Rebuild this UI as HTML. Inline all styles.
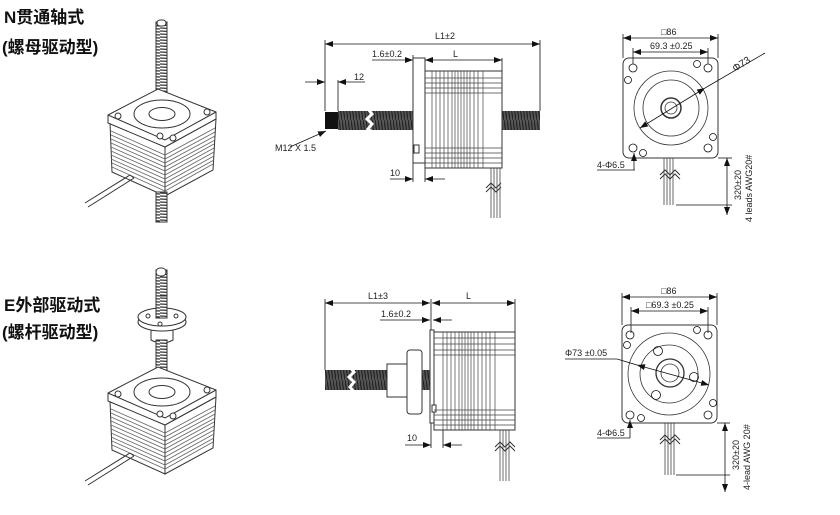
<!DOCTYPE html>
<html><head><meta charset="utf-8"><style>
html,body{margin:0;padding:0;background:#fff;}
svg{display:block;}
text{font-family:"Liberation Sans","Noto Sans CJK SC",sans-serif;fill:#222;}
.t{font-family:"Liberation Sans","Noto Sans CJK SC",sans-serif;font-weight:bold;font-size:17px;fill:#111;}
</style></head><body>
<svg width="840" height="515" viewBox="0 0 840 515" xmlns="http://www.w3.org/2000/svg">
<defs>
<marker id="a" markerWidth="8" markerHeight="6" refX="8" refY="3" orient="auto-start-reverse" markerUnits="userSpaceOnUse"><path d="M0,0L8,3L0,6z" fill="#111"/></marker>
<pattern id="thr" width="3" height="20" patternUnits="userSpaceOnUse"><rect width="3" height="20" fill="#555"/><line x1="0" y1="0" x2="3" y2="20" stroke="#222" stroke-width="1.2"/></pattern>
<pattern id="thrv" width="20" height="3" patternUnits="userSpaceOnUse"><rect width="20" height="3" fill="#fff"/><line x1="0" y1="1" x2="20" y2="2" stroke="#333" stroke-width="1.2"/></pattern>
<g id="motor3d" stroke="#333" stroke-width="1" fill="#fff">
  <path d="M110,123 L112,172 L165,196 L165,147 Z"/>
  <path d="M165,147 L165,196 L213,170 L216,119 Z"/>
  <g stroke="#666" fill="none" stroke-width="0.8">
    <path d="M111,131 L165,155 L215,128"/><path d="M111,135 L165,159 L215,132"/><path d="M111,139 L165,163 L215,136"/><path d="M111,143 L165,167 L215,140"/><path d="M111,147 L165,171 L214,144"/><path d="M111,151 L165,175 L214,148"/><path d="M111,155 L165,179 L214,152"/><path d="M111,159 L165,183 L214,156"/><path d="M112,163 L165,187 L214,160"/><path d="M112,167 L165,191 L213,164"/>
  </g>
  <path d="M108,115 L158,89 L216,112 L216,119 L165,147 L108,123 Z"/>
  <path d="M108,115 L165,140 L216,112" fill="none"/>
  <ellipse cx="162" cy="114" rx="28" ry="14"/>
  <ellipse cx="162" cy="114" rx="13" ry="6.5"/>
  <circle cx="118" cy="116" r="3"/><circle cx="207" cy="112" r="3"/><circle cx="160" cy="136" r="3"/><circle cx="173" cy="138" r="3"/>
  <path d="M130,175 L85,203 M134,178 L88,207 M130,175 L134,178" fill="none"/>
</g>
</defs>

<text class="t" x="4" y="23">N贯通轴式</text>
<text class="t" x="2" y="53">(螺母驱动型)</text>
<text class="t" x="4" y="311">E外部驱动式</text>
<text class="t" x="2" y="338">(螺杆驱动型)</text>

<rect x="156" y="22" width="11" height="95" fill="url(#thrv)" stroke="#333"/>
<rect x="157" y="20" width="9" height="6" rx="3" fill="#fff" stroke="#333"/>
<use href="#motor3d"/>
<rect x="156" y="192" width="11" height="30" fill="url(#thrv)" stroke="#333"/>

<rect x="156" y="270" width="11" height="125" fill="url(#thrv)" stroke="#333"/>
<rect x="156" y="268" width="10" height="8" rx="4" fill="#fff" stroke="#333"/>
<path d="M151,320 L151,340 Q162,346 173,340 L173,320 Z" fill="#fff" stroke="#333"/>
<rect x="156" y="340" width="11" height="30" fill="url(#thrv)" stroke="#333"/>
<ellipse cx="162" cy="322" rx="24" ry="9" fill="#fff" stroke="#333"/>
<ellipse cx="162" cy="317" rx="24" ry="9" fill="#fff" stroke="#333"/>
<rect x="156" y="296" width="11" height="22" fill="url(#thrv)" stroke="#333"/>
<circle cx="148" cy="316" r="2" fill="none" stroke="#333"/><circle cx="176" cy="316" r="2" fill="none" stroke="#333"/><circle cx="160" cy="324" r="2" fill="none" stroke="#333"/>
<use href="#motor3d" transform="translate(0,278)"/>

<g stroke="#111" stroke-width="0.8" fill="none">
<line x1="325" y1="44" x2="540" y2="44" marker-start="url(#a)" marker-end="url(#a)"/>
<line x1="325" y1="40" x2="325" y2="111"/><line x1="540" y1="40" x2="540" y2="111"/>
<line x1="372" y1="60" x2="413" y2="60" marker-end="url(#a)"/>
<line x1="425" y1="60" x2="502" y2="60" marker-start="url(#a)" marker-end="url(#a)"/>
<line x1="413" y1="55" x2="413" y2="60"/><line x1="502" y1="58" x2="502" y2="71"/>
<line x1="305" y1="82" x2="325" y2="82" marker-end="url(#a)"/><line x1="338" y1="82" x2="365" y2="82" marker-start="url(#a)"/>
<line x1="338" y1="80" x2="338" y2="111"/>
<line x1="290" y1="147" x2="326" y2="131" marker-end="url(#a)"/>
<line x1="390" y1="179" x2="413" y2="179" marker-end="url(#a)"/><line x1="425" y1="179" x2="445" y2="179" marker-start="url(#a)"/>
<line x1="413" y1="163" x2="413" y2="182"/><line x1="425" y1="163" x2="425" y2="182"/>
</g>
<rect x="338" y="111" width="75" height="19" fill="url(#thr)"/>
<rect x="325" y="112" width="13" height="17" fill="#111"/>
<rect x="502" y="111" width="38" height="19" fill="url(#thr)"/>
<path d="M368,109 l4,5 -5,5 5,5 -4,5 4,3" stroke="#fff" stroke-width="3" fill="none"/>
<rect x="413" y="58" width="12" height="105" fill="#fff" stroke="#333"/>
<rect x="414" y="145" width="5" height="8" fill="#fff" stroke="#333"/>
<rect x="425" y="71" width="77" height="97" fill="#fff" stroke="#333"/>
<g stroke="#444" stroke-width="0.7">
<path d="M432,71V168M436,71V168M440,71V168M444,71V168M448,71V168M452,71V168M455,71V168M458,71V168M461,71V168M464,71V168M467,71V168M470,71V168M474,71V168M478,71V168M483,71V168"/>
<path d="M425,78H502M425,83H502M425,88H502M425,93H502M425,148H502M425,153H502M425,158H502M425,163H502"/>
</g>
<path d="M491,168V218M494,168V218M497,168V218M500,168V218" stroke="#444" stroke-width="0.8"/>
<path d="M486,188l5,-5 5,5 5,-5 M486,192l5,-5 5,5 5,-5" stroke="#333" fill="none"/>
<text x="435" y="39" font-size="9">L1±2</text>
<text x="372" y="57" font-size="9">1.6±0.2</text>
<text x="453" y="57" font-size="9">L</text>
<text x="354" y="80" font-size="9">12</text>
<text x="275" y="151" font-size="9">M12 X 1.5</text>
<text x="390" y="176" font-size="9">10</text>

<g stroke="#111" stroke-width="0.8" fill="none">
<line x1="623" y1="38" x2="718" y2="38" marker-start="url(#a)" marker-end="url(#a)"/>
<line x1="623" y1="34" x2="623" y2="58"/><line x1="718" y1="34" x2="718" y2="58"/>
<line x1="633" y1="52" x2="708" y2="52" marker-start="url(#a)" marker-end="url(#a)"/>
<line x1="633" y1="48" x2="633" y2="64"/><line x1="708" y1="48" x2="708" y2="64"/>
<rect x="623" y="58" width="95" height="100" rx="6" stroke="#333" stroke-width="1"/>
<circle cx="671" cy="108" r="37" stroke="#333"/>
<circle cx="671" cy="108" r="28" stroke="#333"/>
<circle cx="671" cy="108" r="10" stroke="#333" stroke-width="1.5"/>
<circle cx="671" cy="108" r="6" stroke="#333"/>
<circle cx="633" cy="68" r="4"/><circle cx="708" cy="68" r="4"/><circle cx="633" cy="148" r="4"/><circle cx="708" cy="148" r="4"/>
<circle cx="697" cy="64" r="3.5"/><circle cx="628" cy="80" r="3.5"/><circle cx="713" cy="137" r="3.5"/><circle cx="643" cy="153" r="3.5"/>
<line x1="640" y1="128" x2="705" y2="88" marker-start="url(#a)" marker-end="url(#a)"/>
<line x1="705" y1="88" x2="765" y2="53"/>
<line x1="597" y1="170" x2="635" y2="170"/><line x1="634" y1="170" x2="634" y2="153" marker-end="url(#a)"/>
<line x1="727" y1="158" x2="727" y2="215" marker-start="url(#a)" marker-end="url(#a)"/>
<line x1="718" y1="158" x2="732" y2="158"/><line x1="676" y1="205" x2="732" y2="205"/>
</g>
<path d="M664,158V205M667,158V205M670,158V205M673,158V205" stroke="#444" stroke-width="0.8"/>
<path d="M660,175l5,-5 5,5 5,-5 5,5 M660,179l5,-5 5,5 5,-5 5,5" stroke="#333" fill="none"/>
<text x="661" y="35" font-size="9">□86</text>
<text x="650" y="49" font-size="9">69.3 ±0.25</text>
<text x="735" y="72" font-size="10" transform="rotate(-33 735 72)">Φ73</text>
<text x="597" y="168" font-size="9">4-Φ6.5</text>
<text x="0" y="0" font-size="9" transform="translate(741,200) rotate(-90)">320±20</text>
<text x="0" y="0" font-size="9" transform="translate(752,222) rotate(-90)">4 leads AWG20#</text>

<g stroke="#111" stroke-width="0.8" fill="none">
<line x1="325" y1="303" x2="430" y2="303" marker-start="url(#a)" marker-end="url(#a)"/>
<line x1="432" y1="303" x2="515" y2="303" marker-start="url(#a)" marker-end="url(#a)"/>
<line x1="325" y1="299" x2="325" y2="370"/><line x1="431" y1="299" x2="431" y2="330"/><line x1="515" y1="299" x2="515" y2="332"/>
<line x1="380" y1="320" x2="430" y2="320" marker-end="url(#a)"/><line x1="433" y1="320" x2="452" y2="320" marker-start="url(#a)"/>
<line x1="405" y1="445" x2="431" y2="445" marker-end="url(#a)"/><line x1="443" y1="445" x2="462" y2="445" marker-start="url(#a)"/>
<line x1="431" y1="423" x2="431" y2="448"/><line x1="443" y1="430" x2="443" y2="448"/>
</g>
<rect x="325" y="370" width="105" height="20" fill="url(#thr)"/>
<path d="M350,367 l4,5 -5,5 5,5 -4,5 4,5" stroke="#fff" stroke-width="3" fill="none"/>
<rect x="387" y="364" width="20" height="33" fill="#fff" stroke="#333"/>
<rect x="407" y="350" width="15" height="64" rx="3" fill="#fff" stroke="#333"/>
<rect x="430" y="330" width="4" height="93" fill="#fff" stroke="#333"/>
<rect x="434" y="332" width="81" height="98" fill="#fff" stroke="#333"/>
<rect x="432" y="405" width="4" height="7" fill="#fff" stroke="#333"/>
<g stroke="#444" stroke-width="0.7">
<path d="M443,332V430M447,332V430M451,332V430M455,332V430M459,332V430M462,332V430M465,332V430M468,332V430M471,332V430M474,332V430M478,332V430M482,332V430M486,332V430M490,332V430M495,332V430"/>
<path d="M434,338H515M434,344H515M434,350H515M434,355H515M434,410H515M434,415H515M434,420H515M434,425H515"/>
</g>
<path d="M500,430V481M503,430V481M506,430V481M509,430V481" stroke="#444" stroke-width="0.8"/>
<path d="M495,447l5,-5 5,5 5,-5 5,5 M495,451l5,-5 5,5 5,-5 5,5" stroke="#333" fill="none"/>
<text x="368" y="299" font-size="9">L1±3</text>
<text x="466" y="299" font-size="9">L</text>
<text x="381" y="317" font-size="9">1.6±0.2</text>
<text x="407" y="441" font-size="9">10</text>

<g stroke="#111" stroke-width="0.8" fill="none">
<line x1="622" y1="297" x2="717" y2="297" marker-start="url(#a)" marker-end="url(#a)"/>
<line x1="622" y1="293" x2="622" y2="325"/><line x1="717" y1="293" x2="717" y2="325"/>
<line x1="631" y1="311" x2="708" y2="311" marker-start="url(#a)" marker-end="url(#a)"/>
<line x1="631" y1="307" x2="631" y2="333"/><line x1="708" y1="307" x2="708" y2="333"/>
<rect x="622" y="325" width="95" height="98" rx="6" stroke="#333" stroke-width="1"/>
<circle cx="669" cy="374" r="41" stroke="#333"/>
<circle cx="669" cy="374" r="29" stroke="#333"/>
<circle cx="670" cy="373" r="14" stroke="#333" stroke-width="1.3"/>
<circle cx="670" cy="373" r="9" stroke="#333"/>
<circle cx="658" cy="351" r="4.5"/><circle cx="694" cy="377" r="4.5"/><circle cx="656" cy="395" r="4.5"/>
<circle cx="630" cy="335" r="4"/><circle cx="708" cy="335" r="4"/><circle cx="630" cy="415" r="4"/><circle cx="708" cy="415" r="4"/>
<circle cx="697" cy="330" r="3.5"/><circle cx="627" cy="345" r="3.5"/><circle cx="713" cy="403" r="3.5"/><circle cx="641" cy="418" r="3.5"/>
<line x1="565" y1="359" x2="617" y2="359"/>
<line x1="637" y1="365" x2="709" y2="385" marker-start="url(#a)" marker-end="url(#a)"/>
<line x1="617" y1="359" x2="637" y2="365"/>
<line x1="597" y1="438" x2="630" y2="438"/><line x1="630" y1="438" x2="630" y2="420" marker-end="url(#a)"/>
<line x1="725" y1="423" x2="725" y2="492" marker-start="url(#a)" marker-end="url(#a)"/>
<line x1="717" y1="423" x2="730" y2="423"/><line x1="676" y1="475" x2="730" y2="475"/>
</g>
<path d="M665,423V475M668,423V475M671,423V475M674,423V475" stroke="#444" stroke-width="0.8"/>
<path d="M660,440l5,-5 5,5 5,-5 5,5 M660,444l5,-5 5,5 5,-5 5,5" stroke="#333" fill="none"/>
<text x="661" y="294" font-size="9">□86</text>
<text x="646" y="308" font-size="9">□69.3 ±0.25</text>
<text x="565" y="356" font-size="9">Φ73 ±0.05</text>
<text x="597" y="436" font-size="9">4-Φ6.5</text>
<text x="0" y="0" font-size="9" transform="translate(739,470) rotate(-90)">320±20</text>
<text x="0" y="0" font-size="9" transform="translate(750,490) rotate(-90)">4-lead AWG 20#</text>
</svg>
</body></html>
